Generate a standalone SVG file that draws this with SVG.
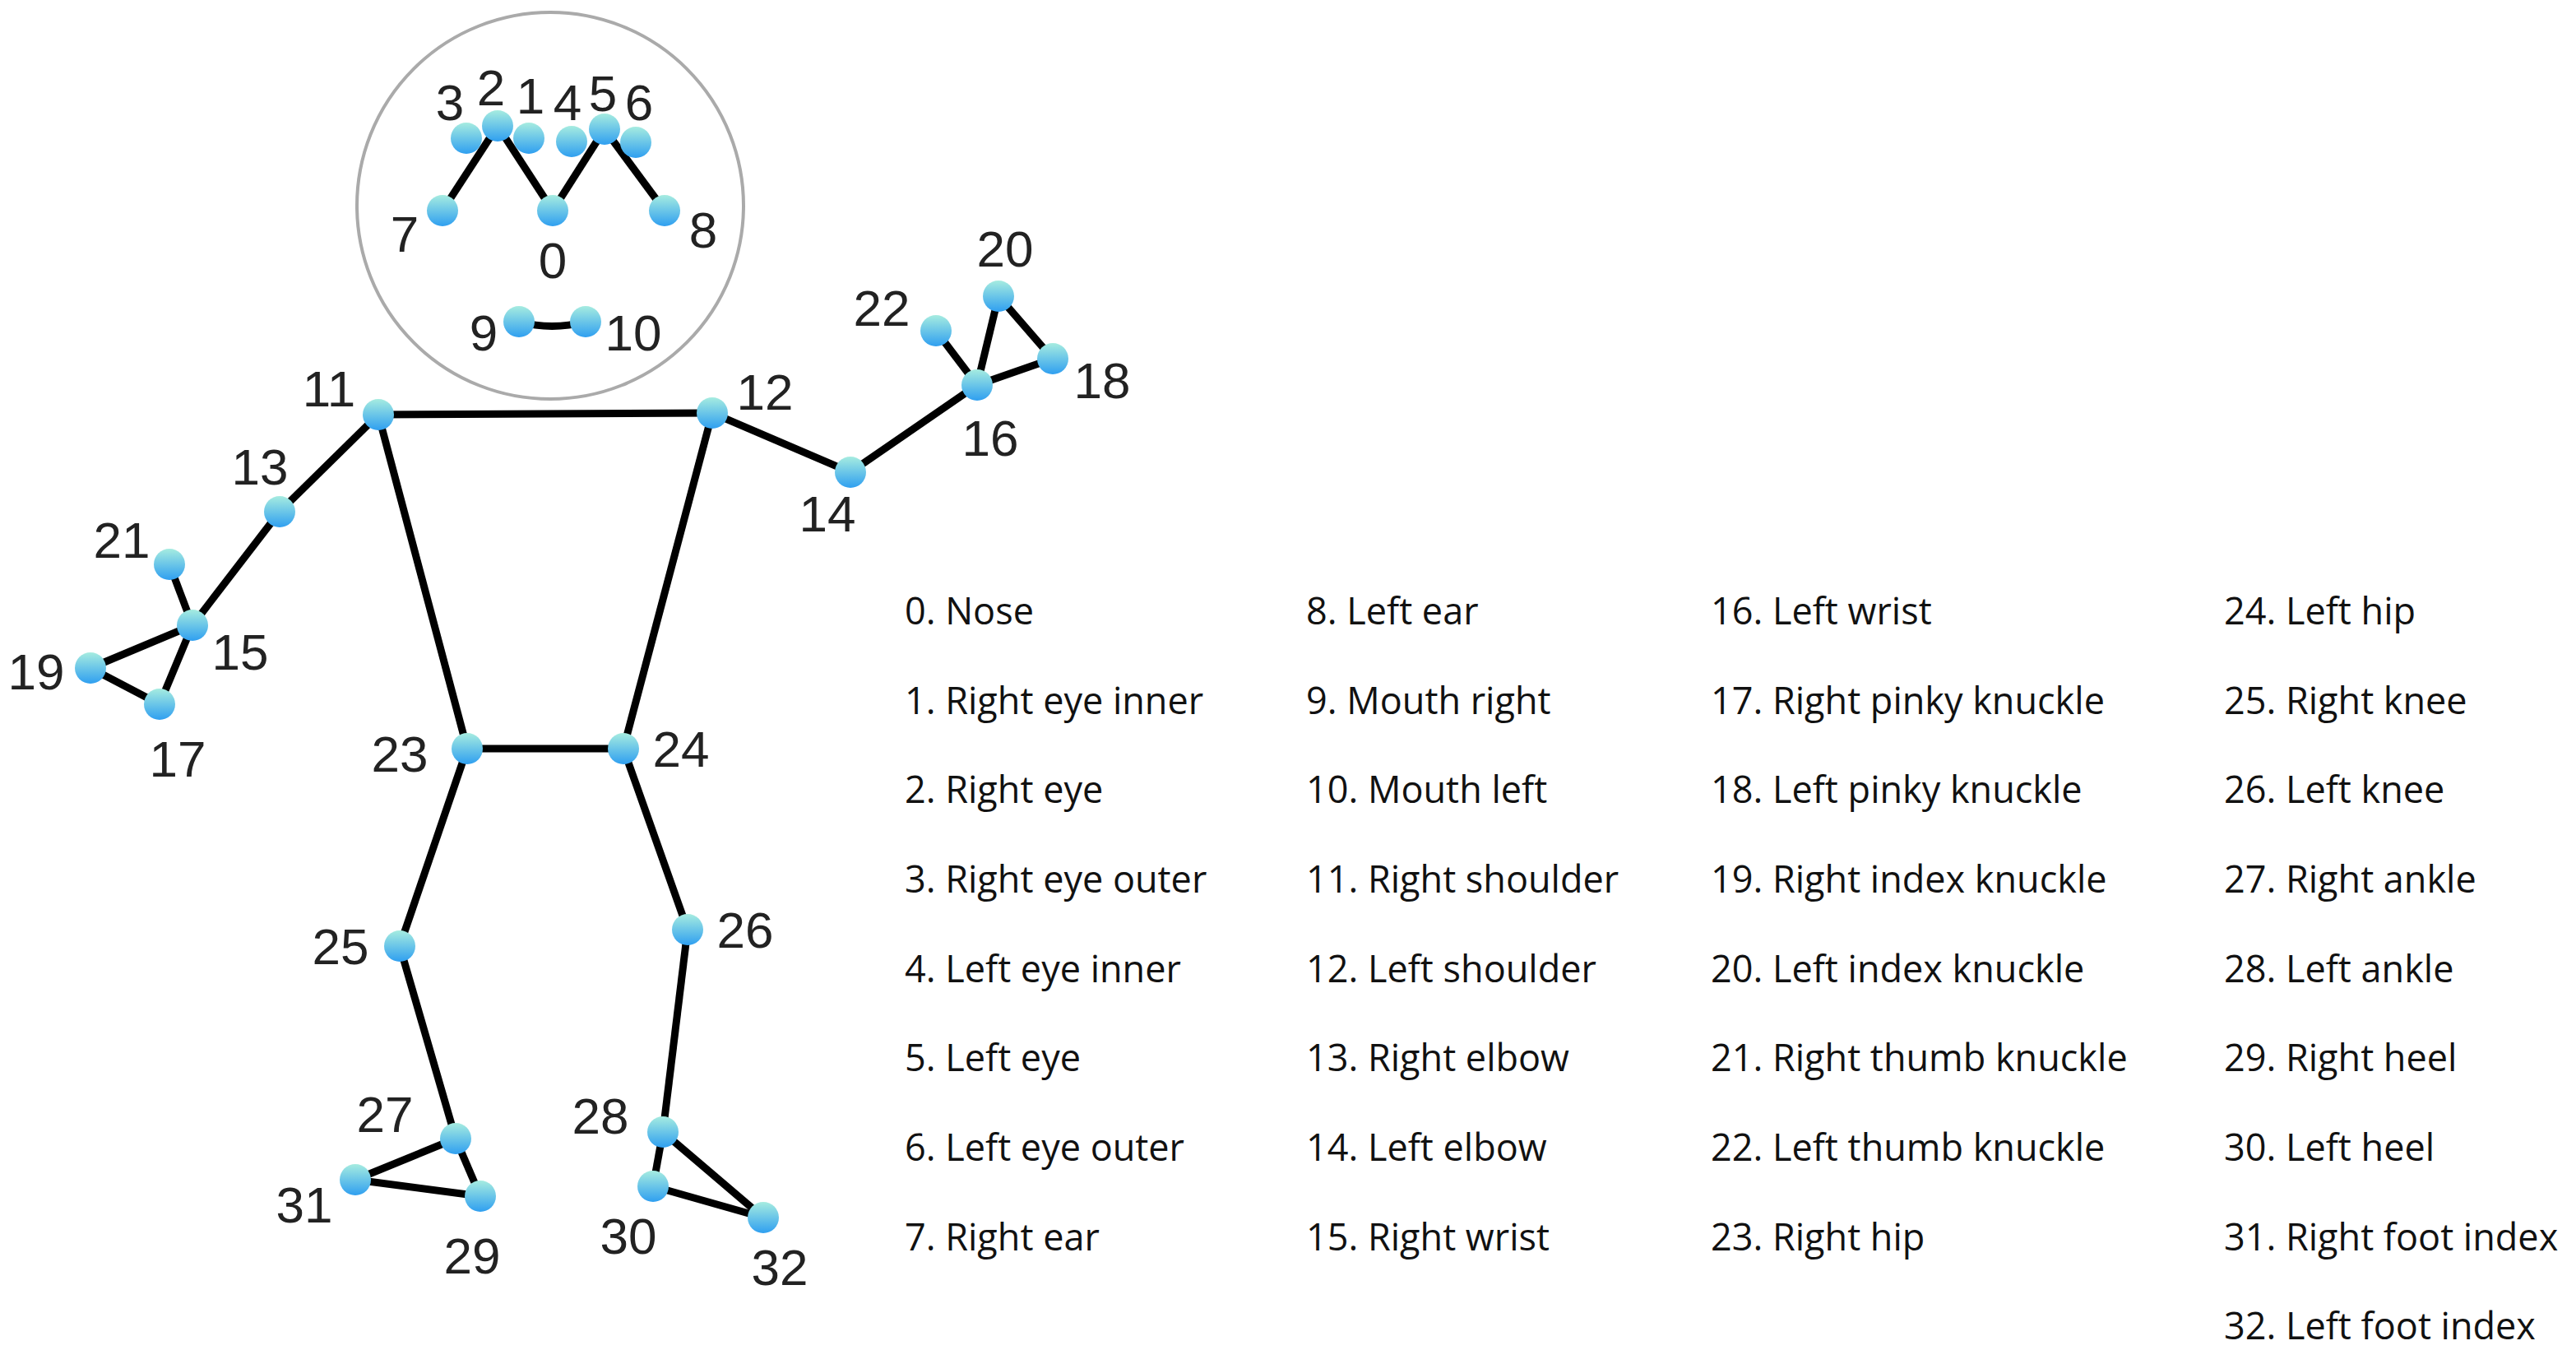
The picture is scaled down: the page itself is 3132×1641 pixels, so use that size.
<svg xmlns="http://www.w3.org/2000/svg" width="3132" height="1641" viewBox="0 0 3132 1641">
<style>
.n{fill:url(#g)}
.e line,.e path{stroke:#000;stroke-width:9;fill:none}
.l{font-family:"Liberation Sans",Arial,sans-serif;font-size:62px;fill:#222;text-anchor:middle}
.t{font-family:"Open Sans","Liberation Sans",sans-serif;font-size:45px;fill:#111}
</style>
<defs><linearGradient id="g" x1="0" y1="0" x2="0" y2="1"><stop offset="0" stop-color="#a6ece0"/><stop offset="1" stop-color="#2f9ff0"/></linearGradient></defs>
<rect width="3132" height="1641" fill="#fff"/>
<circle cx="669" cy="250" r="235" fill="none" stroke="#aaa" stroke-width="4"/>
<g class="e" id="connectors">
<line x1="538" y1="256" x2="605" y2="153"/><line x1="605" y1="153" x2="672" y2="256"/><line x1="672" y1="256" x2="735" y2="157"/><line x1="735" y1="157" x2="808" y2="256"/>
<path d="M631 391 Q671 402 712 391"/>
<line x1="460" y1="504" x2="866" y2="502"/><line x1="460" y1="504" x2="568" y2="910"/><line x1="866" y1="502" x2="758" y2="910"/><line x1="568" y1="910" x2="758" y2="910"/>
<line x1="460" y1="504" x2="340" y2="622"/><line x1="340" y1="622" x2="234" y2="760"/><line x1="234" y1="760" x2="206" y2="686"/><line x1="234" y1="760" x2="110" y2="812"/><line x1="234" y1="760" x2="194" y2="856"/><line x1="110" y1="812" x2="194" y2="856"/>
<line x1="866" y1="502" x2="1034" y2="574"/><line x1="1034" y1="574" x2="1188" y2="468"/><line x1="1188" y1="468" x2="1138" y2="402"/><line x1="1188" y1="468" x2="1214" y2="360"/><line x1="1188" y1="468" x2="1280" y2="436"/><line x1="1214" y1="360" x2="1280" y2="436"/>
<line x1="568" y1="910" x2="486" y2="1150"/><line x1="486" y1="1150" x2="554" y2="1384"/><line x1="554" y1="1384" x2="584" y2="1454"/><line x1="554" y1="1384" x2="432" y2="1434"/><line x1="584" y1="1454" x2="432" y2="1434"/>
<line x1="758" y1="910" x2="836" y2="1130"/><line x1="836" y1="1130" x2="806" y2="1376"/><line x1="806" y1="1376" x2="794" y2="1442"/><line x1="806" y1="1376" x2="928" y2="1480"/><line x1="794" y1="1442" x2="928" y2="1480"/>
</g>
<g id="n0"><circle class="n" cx="672" cy="256" r="19"/><text class="l" x="672" y="338">0</text></g>
<g id="n3"><circle class="n" cx="567" cy="168" r="19"/><text class="l" x="547" y="146">3</text></g>
<g id="n1"><circle class="n" cx="643" cy="168" r="19"/><text class="l" x="645" y="138">1</text></g>
<g id="n2"><circle class="n" cx="605" cy="153" r="19"/><text class="l" x="597" y="128">2</text></g>
<g id="n4"><circle class="n" cx="695" cy="172" r="19"/><text class="l" x="690" y="146">4</text></g>
<g id="n6"><circle class="n" cx="773" cy="173" r="19"/><text class="l" x="777" y="146">6</text></g>
<g id="n5"><circle class="n" cx="735" cy="157" r="19"/><text class="l" x="733" y="135">5</text></g>
<g id="n7"><circle class="n" cx="538" cy="256" r="19"/><text class="l" x="492" y="306">7</text></g>
<g id="n8"><circle class="n" cx="808" cy="256" r="19"/><text class="l" x="855" y="301">8</text></g>
<g id="n9"><circle class="n" cx="631" cy="391" r="19"/><text class="l" x="588" y="426">9</text></g>
<g id="n10"><circle class="n" cx="712" cy="391" r="19"/><text class="l" x="770" y="426">10</text></g>
<g id="n11"><circle class="n" cx="460" cy="504" r="19"/><text class="l" x="400" y="494">11</text></g>
<g id="n12"><circle class="n" cx="866" cy="502" r="19"/><text class="l" x="930" y="498">12</text></g>
<g id="n13"><circle class="n" cx="340" cy="622" r="19"/><text class="l" x="316" y="589">13</text></g>
<g id="n14"><circle class="n" cx="1034" cy="574" r="19"/><text class="l" x="1006" y="646">14</text></g>
<g id="n15"><circle class="n" cx="234" cy="760" r="19"/><text class="l" x="292" y="814">15</text></g>
<g id="n16"><circle class="n" cx="1188" cy="468" r="19"/><text class="l" x="1204" y="554">16</text></g>
<g id="n17"><circle class="n" cx="194" cy="856" r="19"/><text class="l" x="216" y="944">17</text></g>
<g id="n18"><circle class="n" cx="1280" cy="436" r="19"/><text class="l" x="1340" y="484">18</text></g>
<g id="n19"><circle class="n" cx="110" cy="812" r="19"/><text class="l" x="44" y="838">19</text></g>
<g id="n20"><circle class="n" cx="1214" cy="360" r="19"/><text class="l" x="1222" y="324">20</text></g>
<g id="n21"><circle class="n" cx="206" cy="686" r="19"/><text class="l" x="148" y="678">21</text></g>
<g id="n22"><circle class="n" cx="1138" cy="402" r="19"/><text class="l" x="1072" y="396">22</text></g>
<g id="n23"><circle class="n" cx="568" cy="910" r="19"/><text class="l" x="486" y="938">23</text></g>
<g id="n24"><circle class="n" cx="758" cy="910" r="19"/><text class="l" x="828" y="932">24</text></g>
<g id="n25"><circle class="n" cx="486" cy="1150" r="19"/><text class="l" x="414" y="1172">25</text></g>
<g id="n26"><circle class="n" cx="836" cy="1130" r="19"/><text class="l" x="906" y="1152">26</text></g>
<g id="n27"><circle class="n" cx="554" cy="1384" r="19"/><text class="l" x="468" y="1376">27</text></g>
<g id="n28"><circle class="n" cx="806" cy="1376" r="19"/><text class="l" x="730" y="1378">28</text></g>
<g id="n29"><circle class="n" cx="584" cy="1454" r="19"/><text class="l" x="574" y="1548">29</text></g>
<g id="n30"><circle class="n" cx="794" cy="1442" r="19"/><text class="l" x="764" y="1524">30</text></g>
<g id="n31"><circle class="n" cx="432" cy="1434" r="19"/><text class="l" x="370" y="1486">31</text></g>
<g id="n32"><circle class="n" cx="928" cy="1480" r="19"/><text class="l" x="948" y="1562">32</text></g>
<g id="legend">
<text class="t" x="1100" y="759">0. Nose</text>
<text class="t" x="1100" y="868">1. Right eye inner</text>
<text class="t" x="1100" y="976">2. Right eye</text>
<text class="t" x="1100" y="1085">3. Right eye outer</text>
<text class="t" x="1100" y="1194">4. Left eye inner</text>
<text class="t" x="1100" y="1302">5. Left eye</text>
<text class="t" x="1100" y="1411">6. Left eye outer</text>
<text class="t" x="1100" y="1520">7. Right ear</text>
<text class="t" x="1588" y="759">8. Left ear</text>
<text class="t" x="1588" y="868">9. Mouth right</text>
<text class="t" x="1588" y="976">10. Mouth left</text>
<text class="t" x="1588" y="1085">11. Right shoulder</text>
<text class="t" x="1588" y="1194">12. Left shoulder</text>
<text class="t" x="1588" y="1302">13. Right elbow</text>
<text class="t" x="1588" y="1411">14. Left elbow</text>
<text class="t" x="1588" y="1520">15. Right wrist</text>
<text class="t" x="2080" y="759">16. Left wrist</text>
<text class="t" x="2080" y="868">17. Right pinky knuckle</text>
<text class="t" x="2080" y="976">18. Left pinky knuckle</text>
<text class="t" x="2080" y="1085">19. Right index knuckle</text>
<text class="t" x="2080" y="1194">20. Left index knuckle</text>
<text class="t" x="2080" y="1302">21. Right thumb knuckle</text>
<text class="t" x="2080" y="1411">22. Left thumb knuckle</text>
<text class="t" x="2080" y="1520">23. Right hip</text>
<text class="t" x="2704" y="759">24. Left hip</text>
<text class="t" x="2704" y="868">25. Right knee</text>
<text class="t" x="2704" y="976">26. Left knee</text>
<text class="t" x="2704" y="1085">27. Right ankle</text>
<text class="t" x="2704" y="1194">28. Left ankle</text>
<text class="t" x="2704" y="1302">29. Right heel</text>
<text class="t" x="2704" y="1411">30. Left heel</text>
<text class="t" x="2704" y="1520">31. Right foot index</text>
<text class="t" x="2704" y="1628">32. Left foot index</text>
</g>
</svg>
